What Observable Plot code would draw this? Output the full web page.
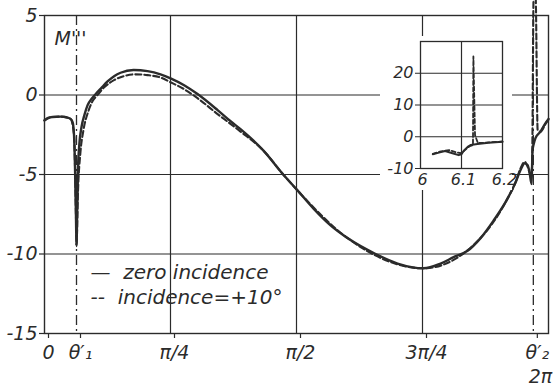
<!DOCTYPE html>
<html>
<head>
<meta charset="utf-8">
<script src="https://cdn.jsdelivr.net/npm/d3@7"></script>
<script src="https://cdn.jsdelivr.net/npm/@observablehq/plot@0.6"></script>
<style>
  html, body { margin: 0; padding: 0; background: #fff; }
  #wrap { position: relative; width: 557px; height: 388px; }
  #inset { position: absolute; left: 380px; top: 36px; }
  #inset svg { overflow: visible; }
</style>
</head>
<body>
<div id="wrap"><div id="main"></div><div id="inset"></div></div>
<script>
// ---- data (x in radians, main axis spans 0..π, right end labelled 2π) ----
const theta1 = 0.1995;
const theta2 = 3.047;

const solidX = [0, 0.019, 0.050, 0.100, 0.137, 0.162, 0.175, 0.184, 0.190, 0.196, 0.1995, 0.204, 0.209, 0.218, 0.231, 0.249, 0.268, 0.293, 0.318, 0.355, 0.393, 0.436, 0.474, 0.555, 0.642, 0.723, 0.786, 0.873, 0.954, 1.079, 1.160, 1.222, 1.365, 1.484, 1.577, 1.677, 1.783, 1.889, 2.064, 2.201, 2.363, 2.469, 2.550, 2.637, 2.718, 2.799, 2.887, 2.936, 2.968, 2.993, 3.011, 3.024, 3.036, 3.042, 3.049, 3.061, 3.092, 3.124, 3.142];
const solidY = [-1.6, -1.45, -1.38, -1.36, -1.4, -1.5, -1.7, -2.5, -4.5, -7.5, -9.5, -7.0, -4.6, -3.0, -2.0, -1.25, -0.65, -0.25, 0.05, 0.45, 0.85, 1.2, 1.4, 1.57, 1.5, 1.3, 1.05, 0.6, 0.06, -0.95, -1.65, -2.15, -3.5, -4.95, -6.0, -7.15, -8.2, -9.0, -10.0, -10.6, -10.9, -10.6, -10.2, -9.8, -9.0, -7.9, -6.5, -5.5, -4.7, -4.3, -4.4, -4.9, -5.6, -3.5, -3.1, -2.7, -2.3, -1.75, -1.5];

const dashX = [0, 0.050, 0.100, 0.162, 0.184, 0.196, 0.1995, 0.209, 0.224, 0.243, 0.274, 0.299, 0.330, 0.374, 0.436, 0.499, 0.561, 0.642, 0.723, 0.786, 0.873, 0.954, 1.079, 1.222, 1.365, 1.484, 1.577, 1.889, 2.363, 2.718, 2.887, 2.936, 2.968, 2.993, 3.011, 3.030, 3.039, 3.049, 3.061, 3.074, 3.092, 3.124, 3.142];
const dashY = [-1.6, -1.38, -1.36, -1.5, -2.5, -7.5, -9.4, -6.0, -3.6, -2.2, -1.0, -0.4, 0.0, 0.5, 0.95, 1.2, 1.3, 1.25, 1.1, 0.8, 0.35, -0.2, -1.2, -2.3, -3.5, -4.95, -6.0, -9.0, -10.9, -9.0, -6.5, -5.5, -4.6, -4.2, -4.5, -5.0, -4.5, 6.3, 6.3, -2.2, -2.3, -1.8, -1.55];

const xTicks = [0, theta1, Math.PI / 4, Math.PI / 2, 3 * Math.PI / 4, theta2];
const xTickLabels = ["0", "θ′₁", "π/4", "π/2", "3π/4", "θ′₂"];
const xEndTick = [Math.PI];
const xEndLabel = ["2π"];
const yTicks = [5, 0, -5, -10, -15];
const gridY = [0, -5, -10];
const gridX = [Math.PI / 4, Math.PI / 2, 3 * Math.PI / 4];
const gridXDashed = [theta1, theta2];
const legendLabels = ["—\u00a0\u00a0zero incidence", "--\u00a0\u00a0incidence=+10°"];
const yLabel = "M'''";

// inset
const insetSolidX = [6.03, 6.045, 6.06, 6.078, 6.093, 6.1, 6.105, 6.115, 6.122, 6.139, 6.166, 6.2];
const insetSolidY = [-5.5, -5.0, -4.5, -5.2, -5.8, -5.5, -4.5, -3.2, -2.6, -2.3, -1.9, -1.6];
const insetDashX = [6.03, 6.05, 6.07, 6.09, 6.1, 6.11, 6.12, 6.128, 6.129, 6.133, 6.14, 6.166, 6.2];
const insetDashY = [-5.4, -4.6, -4.2, -5.0, -5.2, -4.0, -3.0, -2.6, 25.3, 0.5, -2.0, -1.8, -1.5];
const insetXTicks = [6, 6.1, 6.2];
const insetXLabels = ["6", "6.1", "6.2"];
const insetYTicks = [20, 10, 0, -10];
const insetGridY = [0, 10, 20];
const insetGridX = [6.1];

const ink = "#2b2b2b";
const solid = solidX.map((x, i) => ({x, y: solidY[i]}));
const dashed = dashX.map((x, i) => ({x, y: dashY[i]}));
const iSolid = insetSolidX.map((x, i) => ({x, y: insetSolidY[i]}));
const iDashed = insetDashX.map((x, i) => ({x, y: insetDashY[i]}));
const labelOf = new Map(xTicks.map((t, i) => [t, xTickLabels[i]]));
const fmt = d => String(d);

const main = Plot.plot({
  width: 557, height: 388,
  marginLeft: 44, marginRight: 9, marginTop: 15, marginBottom: 55,
  style: {fontFamily: "DejaVu Sans", fontStyle: "italic", fontSize: "19px", color: ink, background: "#fff"},
  x: {domain: [0, Math.PI], label: null},
  y: {domain: [-15, 5], label: null},
  marks: [
    Plot.ruleY(gridY, {stroke: ink, strokeWidth: 1.2}),
    Plot.ruleX(gridX, {stroke: ink, strokeWidth: 1.2}),
    Plot.ruleX(gridXDashed, {stroke: ink, strokeWidth: 1.3, strokeDasharray: "10,4,2,4"}),
    Plot.frame({stroke: ink, strokeWidth: 1.4}),
    Plot.axisY(yTicks, {label: null, tickSize: 5, tickPadding: 2, tickFormat: fmt, stroke: ink, fill: ink, strokeWidth: 1.2}),
    Plot.axisX(xTicks, {label: null, tickSize: 5, tickPadding: 7, dx: 4, tickFormat: d => labelOf.get(d), stroke: ink, fill: ink, strokeWidth: 1.2}),
    Plot.axisX(xEndTick, {label: null, tickSize: 0, tickPadding: 36, dx: -8, tickFormat: () => xEndLabel[0], fill: ink}),
    Plot.line(solid, {x: "x", y: "y", stroke: ink, strokeWidth: 2.4, curve: "monotone-x"}),
    Plot.line(dashed, {x: "x", y: "y", stroke: ink, strokeWidth: 2.1, strokeDasharray: "6,3", curve: "monotone-x"}),
    Plot.text([yLabel], {frameAnchor: "top-left", dx: 10, dy: 16, fontSize: 19, fill: ink, textAnchor: "start", lineAnchor: "top"}),
    Plot.text([legendLabels[0]], {frameAnchor: "bottom-left", dx: 46, dy: -61, fontSize: 20, fill: ink, textAnchor: "start", lineAnchor: "middle"}),
    Plot.text([legendLabels[1]], {frameAnchor: "bottom-left", dx: 46, dy: -36, fontSize: 20, fill: ink, textAnchor: "start", lineAnchor: "middle"})
  ]
});
document.getElementById("main").appendChild(main);

const insetLabel = new Map(insetXTicks.map((t, i) => [t, insetXLabels[i]]));
const inset = Plot.plot({
  width: 132, height: 154,
  marginLeft: 40, marginRight: 10, marginTop: 5, marginBottom: 22,
  style: {fontFamily: "DejaVu Sans", fontStyle: "italic", fontSize: "16px", color: ink, background: "#fff", overflow: "visible"},
  x: {domain: [6, 6.2], label: null},
  y: {domain: [-10, 30], label: null},
  marks: [
    Plot.ruleY(insetGridY, {stroke: ink, strokeWidth: 1.2}),
    Plot.ruleX(insetGridX, {stroke: ink, strokeWidth: 1.2}),
    Plot.frame({stroke: ink, strokeWidth: 1.3}),
    Plot.axisY(insetYTicks, {label: null, tickSize: 5, tickPadding: 2, tickFormat: fmt, stroke: ink, fill: ink}),
    Plot.axisX(insetXTicks, {label: null, tickSize: 0, tickPadding: 5, dx: 2, tickFormat: d => insetLabel.get(d), fill: ink}),
    Plot.line(iSolid, {x: "x", y: "y", stroke: ink, strokeWidth: 2}),
    Plot.line(iDashed, {x: "x", y: "y", stroke: ink, strokeWidth: 1.8, strokeDasharray: "4,2.5"})
  ]
});
document.getElementById("inset").appendChild(inset);
</script>
</body>
</html>
